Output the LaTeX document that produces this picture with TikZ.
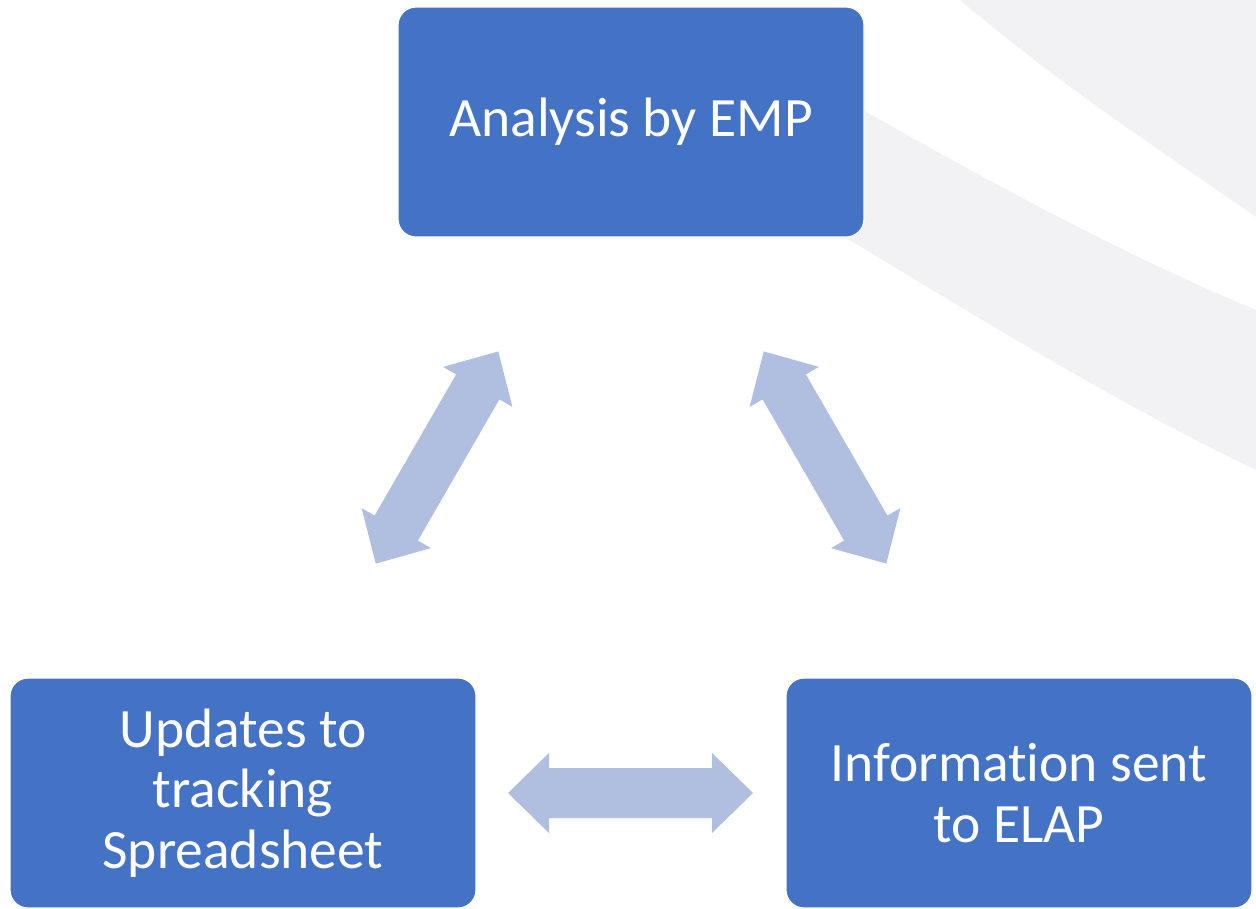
\documentclass[tikz,border=0pt]{standalone}
\usepackage{fontspec}
\setmainfont[Ligatures={NoCommon}]{Carlito}
\definecolor{boxblue}{RGB}{68,114,196}
\definecolor{arrowblue}{RGB}{176,190,224}
\definecolor{bggrey}{RGB}{242,242,244}
\tikzset{
  procbox/.style={draw=white, line width=1.2pt, fill=boxblue, rounded corners=18pt,
    minimum width=466pt, minimum height=230pt, inner sep=0pt, text=white, align=center,
    font=\fontsize{55.5}{60.7}\selectfont},
  dblarrow/.style={fill=arrowblue, draw=none}
}
\newcommand{\dblarrowshape}{%
  (-122.5,0) -- (-81.5,40) -- (-81.5,25) -- (81.5,25) -- (81.5,40) -- (122.5,0)
  -- (81.5,-40) -- (81.5,-25) -- (-81.5,-25) -- (-81.5,-40) -- cycle}
\begin{document}
\begin{tikzpicture}[x=1pt,y=-1pt]
\useasboundingbox (0,0) rectangle (1256,908);
\fill[white] (0,0) rectangle (1256,908);
\begin{scope}
\clip (0,0) rectangle (1256,908);
\fill[bggrey] (960,0) .. controls (1060,85) and (1160,150) .. (1256,217)
  -- (1270,225) -- (1270,-10) -- (950,-10) -- cycle;
\fill[bggrey] (800,74) .. controls (950,160) and (1100,245) .. (1256,310)
  -- (1270,316) -- (1270,476) -- (1256,470)
  .. controls (1100,395) and (950,300) .. (800,210) -- cycle;
\end{scope}
% block arrows
\begin{scope}[shift={(437,457.5)}, rotate=60]
\fill[dblarrow] \dblarrowshape;
\end{scope}
\begin{scope}[shift={(825,457.5)}, rotate=120]
\fill[dblarrow] \dblarrowshape;
\end{scope}
\begin{scope}[shift={(630.5,793)}]
\fill[dblarrow] \dblarrowshape;
\end{scope}
% boxes
\node[procbox] (emp) at (631,122) {Analysis by EMP};
\node[procbox] (track) at (243,793) {Updates to\\tracking\\Spreadsheet};
\node[procbox] (elap) at (1019,793) {Information sent\\to ELAP};
\end{tikzpicture}
\end{document}
